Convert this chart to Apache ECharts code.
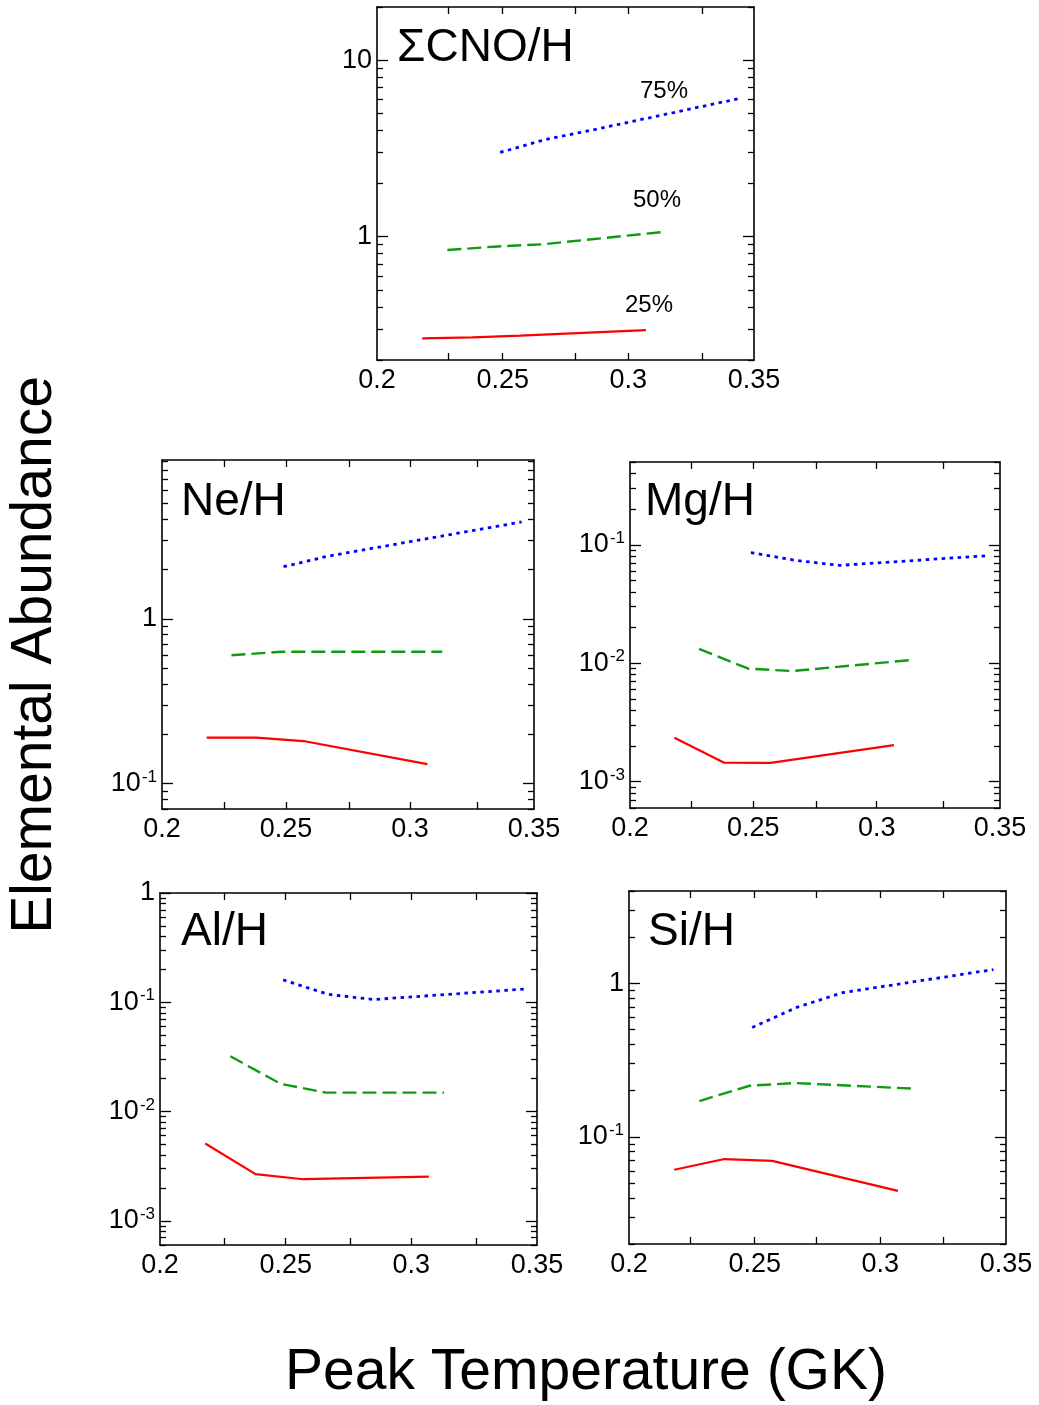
<!DOCTYPE html>
<html>
<head>
<meta charset="utf-8">
<title>Elemental Abundance vs Peak Temperature</title>
<script src="https://cdn.jsdelivr.net/npm/echarts@6/dist/echarts.min.js"></script>
<style>
  html, body { margin: 0; padding: 0; background: #fff; }
  #chart { width: 1039px; height: 1405px; }
</style>
</head>
<body>
<div id="chart"></div>
<script>
// peak temperatures (GK) of the three series
const tRed = [0.218, 0.238, 0.257, 0.307];
const tGreen = [0.228, 0.248, 0.266, 0.313];
const tBlue = [0.249, 0.267, 0.285, 0.345];

// abundances
const cnoRed = [0.265, 0.269, 0.275, 0.295];
const cnoGreen = [0.84, 0.88, 0.905, 1.06];
const cnoBlue = [3.0, 3.55, 4.0, 6.1];
const neRed = [0.19, 0.19, 0.181, 0.131];
const neGreen = [0.60, 0.63, 0.63, 0.63];
const neBlue = [2.07, 2.4, 2.68, 3.87];
const mgRed = [2.35e-3, 1.45e-3, 1.44e-3, 2.04e-3];
const mgGreen = [1.32e-2, 9.0e-3, 8.6e-3, 1.06e-2];
const mgBlue = [0.086, 0.074, 0.067, 0.081];
const alRed = [5.1e-3, 2.67e-3, 2.4e-3, 2.54e-3];
const alGreen = [0.032, 0.0179, 0.0149, 0.0149];
const alBlue = [0.16, 0.118, 0.106, 0.132];
const siRed = [0.061, 0.0716, 0.0696, 0.0444];
const siGreen = [0.171, 0.215, 0.224, 0.206];
const siBlue = [0.516, 0.70, 0.87, 1.23];

// tick labels
const xLabels = [0.2, 0.25, 0.3, 0.35];
const cnoYLabels = [1, 10];
const neYLabels = [0.1, 1];
const mgYLabels = [0.001, 0.01, 0.1];
const alYLabels = [0.001, 0.01, 0.1, 1];
const siYLabels = [0.1, 1];

const panelNames = ['ΣCNO/H', 'Ne/H', 'Mg/H', 'Al/H', 'Si/H'];
const percentLabels = ['75%', '50%', '25%'];

const FONT = '"Liberation Sans", Arial, Helvetica, sans-serif';

// layout of each box (px), its log range and where its name sits
const panels = [
  { rect: [377, 7, 377, 353], ymin: 0.2, ymax: 20, yl: cnoYLabels, name: [397, 48],
    xt: [0.2285, 0.25, 0.279, 0.3, 0.3295], data: [cnoRed, cnoGreen, cnoBlue] },
  { rect: [162, 460, 372, 349], ymin: 0.07, ymax: 9.2, yl: neYLabels, name: [181, 502],
    xt: [0.225, 0.25, 0.2755, 0.3, 0.327], data: [neRed, neGreen, neBlue] },
  { rect: [630, 462, 370, 346], ymin: 0.0006, ymax: 0.5, yl: mgYLabels, name: [645, 502],
    xt: [0.225, 0.25, 0.2755, 0.3, 0.327], data: [mgRed, mgGreen, mgBlue] },
  { rect: [160, 893, 377, 352], ymin: 0.0006, ymax: 1, yl: alYLabels, name: [181, 932],
    xt: [0.2255, 0.25, 0.2755, 0.3, 0.326], data: [alRed, alGreen, alBlue] },
  { rect: [629, 891, 377, 353], ymin: 0.02, ymax: 4, yl: siYLabels, name: [648, 932],
    xt: [0.2245, 0.25, 0.2745, 0.3, 0.325], data: [siRed, siGreen, siBlue] }
];

function minorTicks(lo, hi) {
  var out = [];
  for (var e = -4; e <= 2; e++) {
    for (var m = 2; m <= 9; m++) {
      var v = +(m * Math.pow(10, e)).toPrecision(3);
      if (v >= lo * 0.999 && v <= hi * 1.001) out.push(v);
    }
  }
  return out;
}

function yFormatter(v) {
  if (v >= 1) return '{b|' + Math.round(v) + '}';
  var k = Math.round(Math.log10(v));
  return '{b|10}{s|' + k + '}';
}

const richLabel = {
  b: { fontSize: 27, fontFamily: FONT, color: '#000', lineHeight: 30, verticalAlign: 'middle' },
  s: { fontSize: 17, fontFamily: FONT, color: '#000', lineHeight: 30, verticalAlign: 'top', padding: [0, 0, 0, 1] }
};

const lineSpecs = [
  { color: '#ff0000', type: 'solid', width: 2.2, xs: tRed },
  { color: '#109a10', type: [14, 6], width: 2.4, xs: tGreen },
  { color: '#0000ff', type: [3.5, 4.5], width: 2.8, xs: tBlue }
];

var grid = [], xAxis = [], yAxis = [], series = [], graphic = [];
var black = { color: '#000', width: 1.6 };

panels.forEach(function (p, i) {
  grid.push({ left: p.rect[0], top: p.rect[1], width: p.rect[2], height: p.rect[3], containLabel: false });
  ['bottom', 'top'].forEach(function (pos) {
    xAxis.push({
      type: 'value', gridIndex: i, position: pos, min: 0.2, max: 0.35, interval: 0.05,
      axisLine: { show: true, onZero: false, lineStyle: black },
      axisTick: { show: true, inside: true, length: 7, customValues: p.xt, lineStyle: { color: '#000', width: 1.3 } },
      axisLabel: {
        show: pos === 'bottom', customValues: xLabels, fontSize: 27, fontFamily: FONT, color: '#000', margin: 7,
        formatter: function (v) { return String(+v.toFixed(2)); }
      },
      splitLine: { show: false }
    });
  });
  var minors = minorTicks(p.ymin, p.ymax);
  ['left', 'right'].forEach(function (pos) {
    yAxis.push({
      type: 'log', logBase: 10, gridIndex: i, position: pos, min: p.ymin, max: p.ymax,
      axisLine: { show: true, onZero: false, lineStyle: black },
      axisTick: { show: true, inside: true, length: 11, customValues: p.yl, lineStyle: { color: '#000', width: 1.3 } },
      axisLabel: { show: pos === 'left', customValues: p.yl, margin: 5, formatter: yFormatter, rich: richLabel },
      splitLine: { show: false }, minorTick: { show: false }
    });
    yAxis.push({
      type: 'log', logBase: 10, gridIndex: i, position: pos, min: p.ymin, max: p.ymax,
      axisLine: { show: false },
      axisTick: { show: true, inside: true, length: 6, customValues: minors, lineStyle: { color: '#000', width: 1.3 } },
      axisLabel: { show: false },
      splitLine: { show: false }
    });
  });
  p.data.forEach(function (vals, k) {
    var spec = lineSpecs[k];
    series.push({
      type: 'line', xAxisIndex: 2 * i, yAxisIndex: 4 * i,
      data: spec.xs.map(function (t, j) { return [t, vals[j]]; }),
      showSymbol: false, silent: true,
      lineStyle: { color: spec.color, type: spec.type, width: spec.width, cap: 'butt' }
    });
  });
  graphic.push({
    type: 'text', x: p.name[0], y: p.name[1],
    style: { text: panelNames[i], font: '46px ' + FONT, fill: '#000', align: 'left', verticalAlign: 'middle' }
  });
});

// percent labels in the top panel
[[640, 91], [633, 200], [625, 305]].forEach(function (pt, k) {
  graphic.push({
    type: 'text', x: pt[0], y: pt[1],
    style: { text: percentLabels[k], font: '24px ' + FONT, fill: '#000', verticalAlign: 'middle', align: 'left' }
  });
});

graphic.push({
  type: 'text', x: 35, y: 655, rotation: Math.PI / 2,
  style: { text: 'Elemental Abundance', font: '57px ' + FONT, fill: '#000', align: 'center', verticalAlign: 'middle' }
});
graphic.push({
  type: 'text', x: 586, y: 1373,
  style: { text: 'Peak Temperature (GK)', font: '57px ' + FONT, fill: '#000', align: 'center', verticalAlign: 'middle' }
});

var chart = echarts.init(document.getElementById('chart'));
chart.setOption({
  animation: false,
  backgroundColor: '#fff',
  grid: grid,
  xAxis: xAxis,
  yAxis: yAxis,
  series: series,
  graphic: graphic
});
</script>
</body>
</html>
